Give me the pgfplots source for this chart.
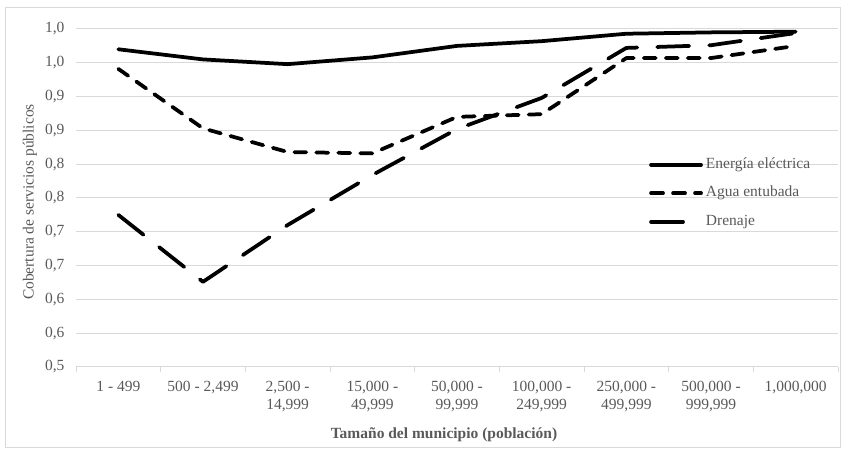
\documentclass[border=0pt]{standalone}
\usepackage{pgfplots}
\pgfplotsset{compat=1.18}
\usepackage{fontspec}
\setmainfont{Liberation Serif}
\definecolor{gridc}{HTML}{D9D9D9}
\definecolor{txt}{HTML}{595959}
\begin{document}
\begin{tikzpicture}[font=\fontsize{15.5}{18}\selectfont, x=1pt, y=1pt]
\path[use as bounding box] (0,0) rectangle (844,455);
\draw[gridc, line width=1pt] (5,7) rectangle (840,447);
\begin{axis}[
  at={(76pt,88pt)}, anchor=south west,
  scale only axis, width=762pt, height=338pt,
  xmin=-0.5, xmax=8.5, ymin=0.5, ymax=1.0,
  axis x line*=bottom, axis y line*=left,
  y axis line style={draw=none},
  x axis line style={draw=gridc, line width=1pt},
  xtick={0,1,2,3,4,5,6,7,8},
  xticklabels={{1 - 499},{500 - 2,499},{2,500 -\\14,999},{15,000 -\\49,999},{50,000 -\\99,999},{100,000 -\\249,999},{250,000 -\\499,999},{500,000 -\\999,999},{1,000,000}},
  xticklabel style={align=center, text=txt, font=\fontsize{15.5}{18}\selectfont, yshift=-11pt},
  major tick length=0pt,
  minor xtick={-0.5,0.5,1.5,2.5,3.5,4.5,5.5,6.5,7.5,8.5},
  minor x tick style={draw=gridc, line width=1pt},
  minor tick length=5pt,
  tick align=outside,
  ytick={0.5,0.55,0.6,0.65,0.7,0.75,0.8,0.85,0.9,0.95,1.0},
  yticklabels={{0,5},{0,6},{0,6},{0,7},{0,7},{0,8},{0,8},{0,9},{0,9},{1,0},{1,0}},
  yticklabel style={text=txt, font=\fontsize{15.5}{18}\selectfont, xshift=-8pt},
  major y tick style={draw=none},
  ymajorgrids, grid style={draw=gridc, line width=1pt},
  legend style={at={(0.748,0.627)}, anchor=north west, draw=none, fill=none,
    font=\fontsize{15.5}{18}\selectfont, text=txt, row sep=13.5pt,
    nodes={inner xsep=3pt, inner ysep=0pt, text height=11pt, text depth=4pt}},
  legend cell align=left,
  legend image code/.code={\draw[#1] (0pt,0pt) -- (50pt,0pt);},
  clip=false,
]
\addplot[black, solid, mark=none, line width=3.75pt, line cap=round, line join=round] coordinates {(0,0.970) (1,0.955) (2,0.948) (3,0.958) (4,0.975) (5,0.982) (6,0.993) (7,0.995) (8,0.996)};
\addlegendentry{Energía eléctrica}
\addplot[black, mark=none, line width=3.75pt, line cap=round, line join=round, dash pattern=on 12pt off 10pt] coordinates {(0,0.941) (1,0.853) (2,0.818) (3,0.816) (4,0.870) (5,0.874) (6,0.957) (7,0.957) (8,0.975)};
\addlegendentry{Agua entubada}
\addplot[black, mark=none, line width=3.75pt, line cap=round, line join=round, dash pattern=on 32pt off 20pt] coordinates {(0,0.725) (1,0.626) (2,0.710) (3,0.784) (4,0.852) (5,0.898) (6,0.972) (7,0.976) (8,0.994)};
\addlegendentry{Drenaje}
\end{axis}
\node[rotate=90, text=txt] at (30,253) {Cobertura de servicios públicos};
\node[text=txt, font=\fontsize{15.5}{18}\selectfont\bfseries] at (444,20) {Tamaño del municipio (población)};
\end{tikzpicture}
\end{document}
